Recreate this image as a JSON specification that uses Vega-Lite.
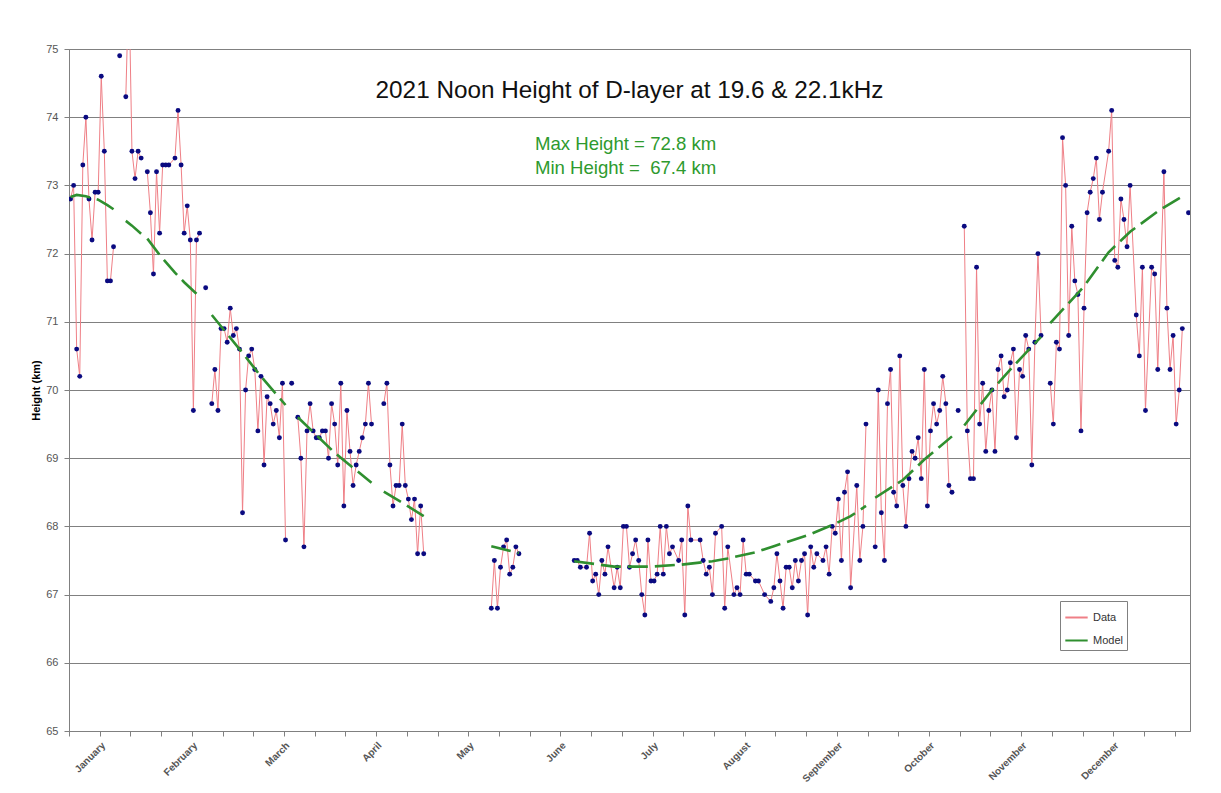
{
  "$schema": "https://vega.github.io/schema/vega-lite/v6.json",
  "width": 1121,
  "height": 682,
  "autosize": {"type": "none"},
  "padding": {"left": 69, "top": 49, "right": 31, "bottom": 62},
  "background": "white",
  "title": {
    "text": "2021 Noon Height of D-layer at 19.6 & 22.1kHz",
    "anchor": "middle",
    "offset": -60,
    "fontSize": 24.3,
    "fontWeight": "normal",
    "font": "Liberation Sans",
    "color": "#111111"
  },
  "config": {
    "font": "Liberation Sans",
    "view": {"stroke": "#808080", "strokeWidth": 1}
  },
  "datasets": {
    "obs": [
      {"day":1,"height":72.8},{"day":2,"height":73.0},{"day":3,"height":70.6},{"day":4,"height":70.2},{"day":5,"height":73.3},{"day":6,"height":74.0},{"day":7,"height":72.8},{"day":8,"height":72.2},{"day":9,"height":72.9},{"day":10,"height":72.9},
      {"day":11,"height":74.6},{"day":12,"height":73.5},{"day":13,"height":71.6},{"day":14,"height":71.6},{"day":15,"height":72.1},{"day":16,"height":null},{"day":17,"height":74.9},{"day":18,"height":null},{"day":19,"height":74.3},{"day":20,"height":76.0},
      {"day":21,"height":73.5},{"day":22,"height":73.1},{"day":23,"height":73.5},{"day":24,"height":73.4},{"day":25,"height":null},{"day":26,"height":73.2},{"day":27,"height":72.6},{"day":28,"height":71.7},{"day":29,"height":73.2},{"day":30,"height":72.3},
      {"day":31,"height":73.3},{"day":32,"height":73.3},{"day":33,"height":73.3},{"day":35,"height":73.4},{"day":36,"height":74.1},{"day":37,"height":73.3},{"day":38,"height":72.3},{"day":39,"height":72.7},{"day":40,"height":72.2},
      {"day":41,"height":69.7},{"day":42,"height":72.2},{"day":43,"height":72.3},{"day":44,"height":null},{"day":45,"height":71.5},{"day":46,"height":null},{"day":47,"height":69.8},{"day":48,"height":70.3},{"day":49,"height":69.7},{"day":50,"height":70.9},
      {"day":51,"height":70.9},{"day":52,"height":70.7},{"day":53,"height":71.2},{"day":54,"height":70.8},{"day":55,"height":70.9},{"day":56,"height":70.6},{"day":57,"height":68.2},{"day":58,"height":70.0},{"day":59,"height":70.5},{"day":60,"height":70.6},
      {"day":61,"height":70.3},{"day":62,"height":69.4},{"day":63,"height":70.2},{"day":64,"height":68.9},{"day":65,"height":69.9},{"day":66,"height":69.8},{"day":67,"height":69.5},{"day":68,"height":69.7},{"day":69,"height":69.3},{"day":70,"height":70.1},
      {"day":71,"height":67.8},{"day":72,"height":null},{"day":73,"height":70.1},{"day":74,"height":null},{"day":75,"height":69.6},{"day":76,"height":69.0},{"day":77,"height":67.7},{"day":78,"height":69.4},{"day":79,"height":69.8},{"day":80,"height":69.4},
      {"day":81,"height":69.3},{"day":82,"height":69.3},{"day":83,"height":69.4},{"day":84,"height":69.4},{"day":85,"height":69.0},{"day":86,"height":69.8},{"day":87,"height":69.5},{"day":88,"height":68.9},{"day":89,"height":70.1},{"day":90,"height":68.3},
      {"day":91,"height":69.7},{"day":92,"height":69.1},{"day":93,"height":68.6},{"day":94,"height":68.9},{"day":95,"height":69.1},{"day":96,"height":69.3},{"day":97,"height":69.5},{"day":98,"height":70.1},{"day":99,"height":69.5},{"day":100,"height":null},
      {"day":103,"height":69.8},{"day":104,"height":70.1},{"day":105,"height":68.9},{"day":106,"height":68.3},{"day":107,"height":68.6},{"day":108,"height":68.6},{"day":109,"height":69.5},{"day":110,"height":68.6},
      {"day":111,"height":68.4},{"day":112,"height":68.1},{"day":113,"height":68.4},{"day":114,"height":67.6},{"day":115,"height":68.3},{"day":116,"height":67.6},{"day":120,"height":null},
      {"day":138,"height":66.8},{"day":139,"height":67.5},{"day":140,"height":66.8},{"day":141,"height":67.4},{"day":142,"height":67.7},{"day":143,"height":67.8},{"day":144,"height":67.3},{"day":145,"height":67.4},{"day":146,"height":67.7},{"day":147,"height":67.6},{"day":150,"height":null},
      {"day":165,"height":67.5},{"day":166,"height":67.5},{"day":167,"height":67.4},{"day":169,"height":67.4},{"day":170,"height":67.9},
      {"day":171,"height":67.2},{"day":172,"height":67.3},{"day":173,"height":67.0},{"day":174,"height":67.5},{"day":175,"height":67.3},{"day":176,"height":67.7},{"day":178,"height":67.1},{"day":179,"height":67.4},{"day":180,"height":67.1},
      {"day":181,"height":68.0},{"day":182,"height":68.0},{"day":183,"height":67.4},{"day":184,"height":67.6},{"day":185,"height":67.8},{"day":186,"height":67.5},{"day":187,"height":67.0},{"day":188,"height":66.7},{"day":189,"height":67.8},{"day":190,"height":67.2},
      {"day":191,"height":67.2},{"day":192,"height":67.3},{"day":193,"height":68.0},{"day":194,"height":67.3},{"day":195,"height":68.0},{"day":196,"height":67.6},{"day":197,"height":67.7},{"day":199,"height":67.5},{"day":200,"height":67.8},
      {"day":201,"height":66.7},{"day":202,"height":68.3},{"day":203,"height":67.8},{"day":206,"height":67.8},{"day":207,"height":67.5},{"day":208,"height":67.3},{"day":209,"height":67.4},{"day":210,"height":67.0},
      {"day":211,"height":67.9},{"day":213,"height":68.0},{"day":214,"height":66.8},{"day":215,"height":67.7},{"day":217,"height":67.0},{"day":218,"height":67.1},{"day":219,"height":67.0},{"day":220,"height":67.8},
      {"day":221,"height":67.3},{"day":222,"height":67.3},{"day":224,"height":67.2},{"day":225,"height":67.2},{"day":227,"height":67.0},{"day":229,"height":66.9},{"day":230,"height":67.1},
      {"day":231,"height":67.6},{"day":232,"height":67.2},{"day":233,"height":66.8},{"day":234,"height":67.4},{"day":235,"height":67.4},{"day":236,"height":67.1},{"day":237,"height":67.5},{"day":238,"height":67.2},{"day":239,"height":67.5},{"day":240,"height":67.6},
      {"day":241,"height":66.7},{"day":242,"height":67.7},{"day":243,"height":67.4},{"day":244,"height":67.6},{"day":246,"height":67.5},{"day":247,"height":67.7},{"day":248,"height":67.3},{"day":249,"height":68.0},{"day":250,"height":67.9},
      {"day":251,"height":68.4},{"day":252,"height":67.5},{"day":253,"height":68.5},{"day":254,"height":68.8},{"day":255,"height":67.1},{"day":257,"height":68.6},{"day":258,"height":67.5},{"day":259,"height":68.0},{"day":260,"height":69.5},
      {"day":261,"height":null},{"day":263,"height":67.7},{"day":264,"height":70.0},{"day":265,"height":68.2},{"day":266,"height":67.5},{"day":267,"height":69.8},{"day":268,"height":70.3},{"day":269,"height":68.5},{"day":270,"height":68.3},
      {"day":271,"height":70.5},{"day":272,"height":68.6},{"day":273,"height":68.0},{"day":274,"height":68.7},{"day":275,"height":69.1},{"day":276,"height":69.0},{"day":277,"height":69.3},{"day":278,"height":68.7},{"day":279,"height":70.3},{"day":280,"height":68.3},
      {"day":281,"height":69.4},{"day":282,"height":69.8},{"day":283,"height":69.5},{"day":284,"height":69.7},{"day":285,"height":70.2},{"day":286,"height":69.8},{"day":287,"height":68.6},{"day":288,"height":68.5},{"day":289,"height":null},{"day":290,"height":69.7},
      {"day":291,"height":null},{"day":292,"height":72.4},{"day":293,"height":69.4},{"day":294,"height":68.7},{"day":295,"height":68.7},{"day":296,"height":71.8},{"day":297,"height":69.5},{"day":298,"height":70.1},{"day":299,"height":69.1},{"day":300,"height":69.7},
      {"day":301,"height":70.0},{"day":302,"height":69.1},{"day":303,"height":70.3},{"day":304,"height":70.5},{"day":305,"height":69.9},{"day":306,"height":70.0},{"day":307,"height":70.4},{"day":308,"height":70.6},{"day":309,"height":69.3},{"day":310,"height":70.3},
      {"day":311,"height":70.2},{"day":312,"height":70.8},{"day":313,"height":70.6},{"day":314,"height":68.9},{"day":315,"height":70.7},{"day":316,"height":72.0},{"day":317,"height":70.8},{"day":318,"height":null},{"day":320,"height":70.1},
      {"day":321,"height":69.5},{"day":322,"height":70.7},{"day":323,"height":70.6},{"day":324,"height":73.7},{"day":325,"height":73.0},{"day":326,"height":70.8},{"day":327,"height":72.4},{"day":328,"height":71.6},{"day":329,"height":71.4},{"day":330,"height":69.4},
      {"day":331,"height":71.2},{"day":332,"height":72.6},{"day":333,"height":72.9},{"day":334,"height":73.1},{"day":335,"height":73.4},{"day":336,"height":72.5},{"day":337,"height":72.9},{"day":339,"height":73.5},{"day":340,"height":74.1},
      {"day":341,"height":71.9},{"day":342,"height":71.8},{"day":343,"height":72.8},{"day":344,"height":72.5},{"day":345,"height":72.1},{"day":346,"height":73.0},{"day":348,"height":71.1},{"day":349,"height":70.5},{"day":350,"height":71.8},
      {"day":351,"height":69.7},{"day":353,"height":71.8},{"day":354,"height":71.7},{"day":355,"height":70.3},{"day":357,"height":73.2},{"day":358,"height":71.2},{"day":359,"height":70.3},{"day":360,"height":70.8},
      {"day":361,"height":69.5},{"day":362,"height":70.0},{"day":363,"height":70.9},{"day":364,"height":null},{"day":365,"height":72.6}
    ],
    "model": [
      {"day":1,"model":72.83},{"day":3,"model":72.86},{"day":6,"model":72.84},{"day":10,"model":72.79},{"day":13,"model":72.71},{"day":15,"model":72.65},{"day":16,"model":null},{"day":17,"model":72.57},{"day":18,"model":null},
      {"day":19,"model":72.48},{"day":21,"model":72.41},{"day":24,"model":72.29},{"day":25,"model":null},{"day":26,"model":72.22},{"day":30,"model":71.98},{"day":35,"model":71.72},{"day":38,"model":71.58},{"day":43,"model":71.37},
      {"day":44,"model":null},{"day":45,"model":71.25},{"day":46,"model":null},{"day":47,"model":71.1},{"day":56,"model":70.6},{"day":63,"model":70.2},{"day":71,"model":69.78},{"day":72,"model":null},{"day":73,"model":69.7},{"day":74,"model":null},
      {"day":75,"model":69.6},{"day":87,"model":69.08},{"day":99,"model":68.64},{"day":100,"model":null},{"day":103,"model":68.51},{"day":110,"model":68.32},{"day":116,"model":68.15},{"day":120,"model":null},
      {"day":138,"model":67.71},{"day":147,"model":67.61},{"day":150,"model":null},
      {"day":165,"model":67.49},{"day":178,"model":67.41},{"day":190,"model":67.41},{"day":200,"model":67.44},{"day":210,"model":67.49},{"day":215,"model":67.53},{"day":224,"model":67.62},{"day":230,"model":67.71},{"day":241,"model":67.87},
      {"day":249,"model":68.02},{"day":255,"model":68.15},{"day":260,"model":68.3},{"day":261,"model":null},{"day":263,"model":68.42},{"day":272,"model":68.68},{"day":279,"model":68.98},{"day":288,"model":69.32},{"day":289,"model":null},
      {"day":290,"model":69.4},{"day":291,"model":null},{"day":292,"model":69.48},{"day":301,"model":70.0},{"day":308,"model":70.35},{"day":317,"model":70.78},{"day":318,"model":null},
      {"day":320,"model":70.98},{"day":331,"model":71.52},{"day":339,"model":72.02},{"day":346,"model":72.32},{"day":355,"model":72.62},{"day":363,"model":72.84}
    ]
  },
  "layer": [
    {
      "data": {"name": "obs"},
      "mark": {"type": "line", "strokeWidth": 1, "clip": true, "invalid": "break-paths-show-domains"},
      "encoding": {
        "x": {
          "field": "day", "type": "quantitative",
          "scale": {"domain": [0.5, 365.5], "nice": false, "zero": false},
          "axis": {
            "title": null,
            "grid": false,
            "tickCount": 60,
            "values": [0.5,10.5,20.5,30.5,40.5,50.5,60.5,70.5,80.5,90.5,100.5,110.5,120.5,130.5,140.5,150.5,160.5,170.5,180.5,190.5,200.5,210.5,220.5,230.5,240.5,250.5,260.5,270.5,280.5,290.5,300.5,310.5,320.5,330.5,340.5,350.5,360.5],
            "labelExpr": "(datum.value - 10.5) % 30 === 0 ? ['January','February','March','April','May','June','July','August','September','October','November','December'][(datum.value - 10.5) / 30] : ''",
            "labelAngle": -45,
            "labelAlign": "right",
            "labelBaseline": "top",
            "labelOverlap": false,
            "labelFlush": false,
            "labelFontSize": 10,
            "labelFontWeight": "bold",
            "labelColor": "#555555",
            "labelPadding": 4,
            "tickSize": 5,
            "tickColor": "#808080",
            "domainColor": "#808080"
          }
        },
        "y": {
          "field": "height", "type": "quantitative",
          "scale": {"domain": [65, 75], "nice": false, "zero": false},
          "axis": {
            "title": "Height (km)",
            "titleFontSize": 11,
            "titleFontWeight": "bold",
            "titleColor": "#000000",
            "titlePadding": 4,
            "values": [65,66,67,68,69,70,71,72,73,74,75],
            "format": "d",
            "grid": true,
            "gridColor": "#808080",
            "gridWidth": 1.2,
            "labelFontSize": 11,
            "labelColor": "#555555",
            "labelPadding": 6,
            "tickSize": 5,
            "tickColor": "#808080",
            "domainColor": "#808080"
          }
        },
        "color": {
          "datum": "Data",
          "type": "nominal",
          "scale": {"domain": ["Data", "Model"], "range": ["#ef7f86", "#2f8f2f"]},
          "legend": {
            "title": null,
            "orient": "none",
            "legendX": 991,
            "legendY": 552,
            "symbolType": "stroke",
            "symbolSize": 500,
            "symbolStrokeWidth": 2,
            "labelFontSize": 11,
            "labelColor": "#333333",
            "labelOffset": 4,
            "strokeColor": "#808080",
            "fillColor": "white",
            "padding": 4,
            "rowPadding": 5
          }
        }
      }
    },
    {
      "data": {"name": "obs"},
      "mark": {"type": "point", "filled": true, "size": 24, "color": "#0a0a80", "opacity": 1, "clip": true},
      "encoding": {
        "x": {"field": "day", "type": "quantitative"},
        "y": {"field": "height", "type": "quantitative"}
      }
    },
    {
      "data": {"name": "model"},
      "mark": {"type": "line", "strokeWidth": 2.6, "strokeDash": [20, 7], "clip": true, "invalid": "break-paths-show-domains"},
      "encoding": {
        "x": {"field": "day", "type": "quantitative"},
        "y": {"field": "model", "type": "quantitative"},
        "color": {"datum": "Model", "type": "nominal"}
      }
    },
    {
      "data": {"values": [{}]},
      "mark": {"type": "text", "align": "left", "baseline": "middle", "fontSize": 18.6, "color": "#2e9a2e"},
      "encoding": {
        "x": {"datum": 152.2},
        "y": {"datum": 73.6},
        "text": {"value": "Max Height = 72.8 km"}
      }
    },
    {
      "data": {"values": [{}]},
      "mark": {"type": "text", "align": "left", "baseline": "middle", "fontSize": 18.6, "color": "#2e9a2e"},
      "encoding": {
        "x": {"datum": 152.2},
        "y": {"datum": 73.26},
        "text": {"value": "Min Height = \u00a067.4 km"}
      }
    }
  ]
}
